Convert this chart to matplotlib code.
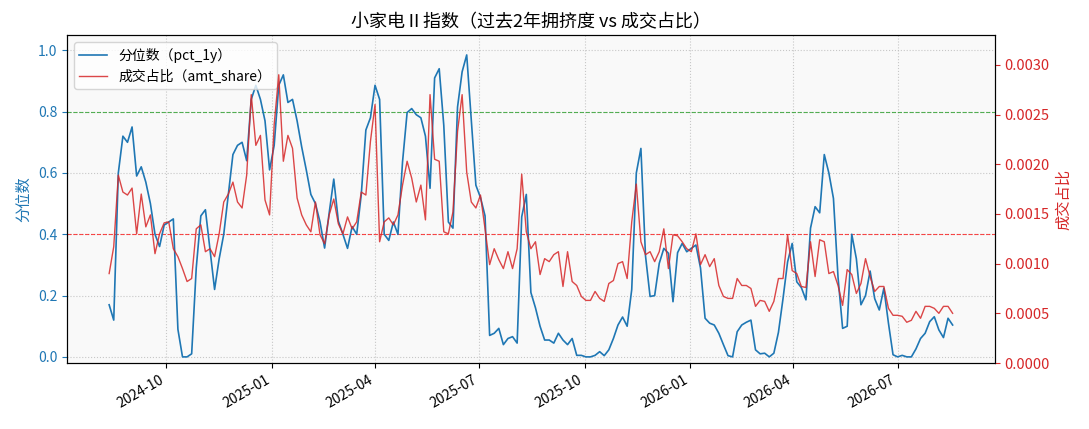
import matplotlib
matplotlib.use("Agg")
import matplotlib.pyplot as plt
import matplotlib.dates as mdates
import pandas as pd
import numpy as np

plt.rcParams['font.family'] = ['Noto Sans CJK SC', 'DejaVu Sans']
plt.rcParams['axes.unicode_minus'] = False

start_date = "2024-08-12"
step = "4D"

pct_1y = [
    0.17, 0.12, 0.60, 0.72, 0.70, 0.75, 0.59, 0.62, 0.57, 0.50,
    0.40, 0.36, 0.43, 0.44, 0.45, 0.09, 0.00, 0.00, 0.01, 0.29,
    0.46, 0.48, 0.35, 0.22, 0.32, 0.40, 0.53, 0.66, 0.69, 0.70,
    0.64, 0.84, 0.886, 0.84, 0.77, 0.61, 0.69, 0.886, 0.92, 0.83,
    0.84, 0.77, 0.685, 0.61, 0.53, 0.50, 0.44, 0.355, 0.47, 0.58,
    0.443, 0.40, 0.354, 0.425, 0.40, 0.53, 0.74, 0.78, 0.886, 0.84,
    0.40, 0.38, 0.44, 0.40, 0.636, 0.797, 0.81, 0.79, 0.78, 0.72,
    0.55, 0.91, 0.94, 0.755, 0.44, 0.42, 0.815, 0.93, 0.985, 0.77,
    0.56, 0.52, 0.46, 0.07, 0.077, 0.093, 0.04, 0.06, 0.066, 0.045,
    0.457, 0.53, 0.21, 0.16, 0.10, 0.055, 0.055, 0.045, 0.077, 0.055,
    0.04, 0.06, 0.005, 0.005, 0.0, 0.0, 0.005, 0.017, 0.004, 0.023,
    0.06, 0.104, 0.13, 0.10, 0.22, 0.60, 0.68, 0.33, 0.197, 0.20,
    0.305, 0.354, 0.338, 0.18, 0.34, 0.37, 0.343, 0.354, 0.365, 0.29,
    0.126, 0.11, 0.104, 0.077, 0.04, 0.004, 0.0, 0.082, 0.104, 0.113,
    0.12, 0.023, 0.01, 0.012, 0.0, 0.012, 0.08, 0.19, 0.31, 0.37,
    0.245, 0.226, 0.186, 0.42, 0.49, 0.47, 0.66, 0.60, 0.517, 0.26,
    0.093, 0.10, 0.40, 0.32, 0.17, 0.20, 0.28, 0.19, 0.153, 0.224,
    0.11, 0.007, 0.0, 0.005, 0.0, 0.0, 0.026, 0.06, 0.077, 0.115,
    0.131, 0.088, 0.063, 0.126, 0.104,
]

amt_share = [
    0.00090, 0.00117, 0.00189, 0.00172, 0.00169, 0.00176, 0.00130, 0.00170, 0.00137, 0.00149,
    0.00110, 0.00130, 0.00141, 0.00142, 0.00115, 0.00107, 0.00095, 0.00082, 0.00085, 0.00135,
    0.00139, 0.00112, 0.00115, 0.00107, 0.00130, 0.00162, 0.00170, 0.00182, 0.00162, 0.00156,
    0.00189, 0.00270, 0.00219, 0.00229, 0.00164, 0.00149, 0.00240, 0.00290, 0.00203, 0.00229,
    0.00216, 0.00166, 0.00149, 0.00139, 0.00132, 0.00162, 0.00129, 0.00120, 0.00149, 0.00165,
    0.00140, 0.00130, 0.00147, 0.00135, 0.00142, 0.00172, 0.00169, 0.00223, 0.00260, 0.00122,
    0.00142, 0.00146, 0.00139, 0.00149, 0.00179, 0.00203, 0.00186, 0.00162, 0.00179, 0.00144,
    0.00270, 0.00205, 0.00203, 0.00132, 0.00130, 0.00152, 0.00233, 0.00270, 0.00192, 0.00162,
    0.00156, 0.00169, 0.00135, 0.00099, 0.00115, 0.00104, 0.00095, 0.00112, 0.00095, 0.00115,
    0.00190, 0.00132, 0.00115, 0.00122, 0.00089, 0.00105, 0.00102, 0.00109, 0.00112, 0.00077,
    0.00112, 0.00082, 0.00078, 0.00067, 0.00063, 0.00063, 0.00072, 0.00065, 0.00062, 0.00080,
    0.00083, 0.00100, 0.00102, 0.00085, 0.00142, 0.00180, 0.00122, 0.00109, 0.00112, 0.00102,
    0.00112, 0.00135, 0.00095, 0.00129, 0.00128, 0.00122, 0.00115, 0.00112, 0.00130, 0.00099,
    0.00109, 0.00097, 0.00105, 0.00078, 0.00067, 0.00065, 0.00065, 0.00085, 0.00078, 0.00078,
    0.00075, 0.00057, 0.00063, 0.00062, 0.00052, 0.00062, 0.00085, 0.00085, 0.00129, 0.00093,
    0.00090, 0.00077, 0.00076, 0.00122, 0.00087, 0.00124, 0.00122, 0.00090, 0.00092, 0.00078,
    0.00058, 0.00094, 0.00089, 0.00070, 0.00080, 0.00105, 0.00087, 0.00072, 0.00077, 0.00077,
    0.00055, 0.00048, 0.00048, 0.00047, 0.00041, 0.00043, 0.00052, 0.00045, 0.00057, 0.00057,
    0.00055, 0.00050, 0.00057, 0.00057, 0.00050,
]

dates = pd.date_range(start_date, periods=len(pct_1y), freq=step)

title = "小家电Ⅱ指数（过去2年拥挤度 vs 成交占比）"
blue = "#1f77b4"
red = "#d62728"

fig = plt.figure(figsize=(10.89, 4.29), dpi=100)
ax = fig.add_axes([0.0615, 0.1538, 0.852, 0.7646])
ax.set_facecolor("#f9f9f9")

l1, = ax.plot(dates, pct_1y, color=blue, lw=1.2, label="分位数（pct_1y）", zorder=3)
ax.axhline(0.8, color="#2ca02c", ls="--", lw=0.8, alpha=0.8)
ax.axhline(0.4, color="red", ls="--", lw=0.8, alpha=0.7)
ax.set_ylim(-0.02, 1.05)
ax.set_yticks([0.0, 0.2, 0.4, 0.6, 0.8, 1.0])
ax.set_ylabel("分位数", color=blue, fontsize=11)
ax.tick_params(axis="y", colors=blue, labelsize=10)
ax.tick_params(axis="x", labelsize=10)
ax.grid(True, ls=":", color="#bbbbbb", lw=0.8, alpha=0.8)

ax2 = ax.twinx()
l2, = ax2.plot(dates, amt_share, color=red, lw=1.0, alpha=0.85, label="成交占比（amt_share）")
ax2.set_ylim(0, 0.0033)
ax2.set_yticks([0.0, 0.0005, 0.0010, 0.0015, 0.0020, 0.0025, 0.0030])
ax2.yaxis.set_major_formatter(matplotlib.ticker.FormatStrFormatter("%.4f"))
ax2.set_ylabel("成交占比", color=red, fontsize=11)
ax2.tick_params(axis="y", colors=red, labelsize=10.5)

ax.xaxis.set_major_locator(mdates.MonthLocator(bymonth=[1, 4, 7, 10]))
ax.xaxis.set_major_formatter(mdates.DateFormatter("%Y-%m"))
for lab in ax.get_xticklabels():
    lab.set_rotation(30)
    lab.set_ha("right")

ax.legend([l1, l2], [l1.get_label(), l2.get_label()], loc="upper left", fontsize=10)
ax.set_title(title, fontsize=13)

fig.savefig("out.png", dpi=100)
